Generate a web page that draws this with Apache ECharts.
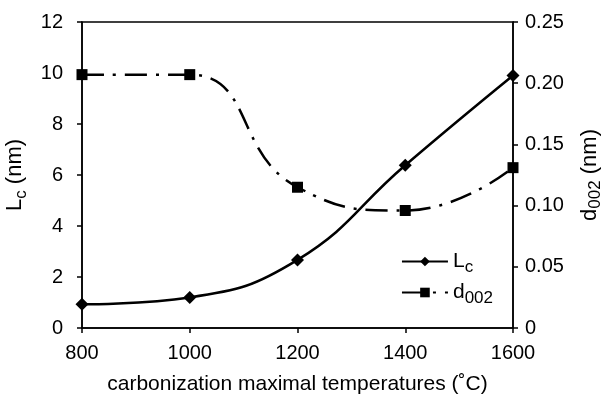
<!DOCTYPE html>
<html><head><meta charset="utf-8">
<script src="https://cdn.jsdelivr.net/npm/echarts@6/dist/echarts.min.js"></script>
<style>html,body{margin:0;padding:0;background:#fff}#c{width:606px;height:399px}</style>
</head><body><div id="c"></div>
<script>
const temperatures = [800, 1000, 1200, 1400, 1600];
const lcValues = [0.93, 1.2, 2.67, 6.38, 9.9];
const d002Values = [0.207, 0.207, 0.115, 0.096, 0.131];
const leftTicks = [0, 2, 4, 6, 8, 10, 12];
const rightTicks = [0, 0.05, 0.10, 0.15, 0.20, 0.25];

const font = '"Liberation Sans", Arial, sans-serif';
const chart = echarts.init(document.getElementById('c'), null, {renderer: 'canvas'});
const lcData = temperatures.map((t, i) => [t, lcValues[i]]);
const dData = temperatures.map((t, i) => [t, d002Values[i]]);

const subRich = {
  a: {fontFamily: font, fontSize: 22, color: '#000'},
  s: {fontFamily: font, fontSize: 17, color: '#000', verticalAlign: 'bottom', padding: [12, 0, 0, 0]}
};

chart.setOption({
  animation: false,
  backgroundColor: '#fff',
  grid: {left: 82, right: 93, top: 22, bottom: 71, show: true, borderColor: '#000', borderWidth: 1.5,
    containLabel: false, outerBoundsMode: 'none'},
  legend: {
    right: 108, top: 246, orient: 'vertical', itemGap: 6, itemWidth: 46, itemHeight: 12,
    textStyle: {fontFamily: font, fontSize: 21, color: '#000',
      rich: {s: {fontFamily: font, fontSize: 17, verticalAlign: 'bottom', padding: [12, 0, 0, 0], color: '#000'}}},
    formatter: n => n === 'Lc' ? 'L{s|c}' : 'd{s|002}',
    data: ['Lc', 'd002']
  },
  xAxis: {
    type: 'value', min: 800, max: 1600, interval: 200,
    name: 'carbonization maximal temperatures (˚C)', nameLocation: 'middle', nameGap: 46,
    nameTextStyle: {fontFamily: font, fontSize: 21, color: '#000'},
    axisLine: {lineStyle: {color: '#000', width: 1.5}},
    axisTick: {show: true, length: 5, lineStyle: {color: '#000', width: 1.5}},
    axisLabel: {fontFamily: font, fontSize: 20, color: '#000', margin: 15, formatter: v => String(v)},
    splitLine: {show: false}
  },
  yAxis: [{
    type: 'value', min: 0, max: 12, interval: 2, position: 'left',
    name: '{a|L}{s|c} {a|(nm)}', nameLocation: 'middle', nameGap: 48, nameRotate: 90,
    nameTextStyle: {fontFamily: font, fontSize: 22, color: '#000', rich: subRich},
    axisLine: {show: true, lineStyle: {color: '#000', width: 1.5}},
    axisTick: {show: true, length: 5, lineStyle: {color: '#000', width: 1.5}},
    axisLabel: {fontFamily: font, fontSize: 20, color: '#000', margin: 19, formatter: v => leftTicks.includes(v) ? String(v) : ''},
    splitLine: {show: false}
  }, {
    type: 'value', min: 0, max: 0.25, interval: 0.05, position: 'right',
    name: '{a|d}{s|002} {a|(nm)}', nameLocation: 'middle', nameGap: 62, nameRotate: 90,
    nameTextStyle: {fontFamily: font, fontSize: 22, color: '#000', rich: subRich},
    axisLine: {show: true, lineStyle: {color: '#000', width: 1.5}},
    axisTick: {show: true, length: 5, lineStyle: {color: '#000', width: 1.5}},
    axisLabel: {fontFamily: font, fontSize: 20, color: '#000', margin: 12,
      formatter: v => { const r = rightTicks.find(t => Math.abs(t - v) < 1e-9); return r === undefined ? '' : (r === 0 ? '0' : r.toFixed(2)); }},
    splitLine: {show: false}
  }],
  series: [{
    name: 'Lc', type: 'line', yAxisIndex: 0, data: lcData, smooth: 0.45,
    symbol: 'diamond', symbolSize: 13,
    lineStyle: {color: '#000', width: 2.5},
    itemStyle: {color: '#000'}
  }, {
    name: 'd002', type: 'line', yAxisIndex: 1, data: dData, smooth: 0.5,
    symbol: 'rect', symbolSize: 11,
    lineStyle: {color: '#000', width: 2.5, type: [22, 9, 3, 9]},
    itemStyle: {color: '#000'}
  }]
});
</script></body></html>
